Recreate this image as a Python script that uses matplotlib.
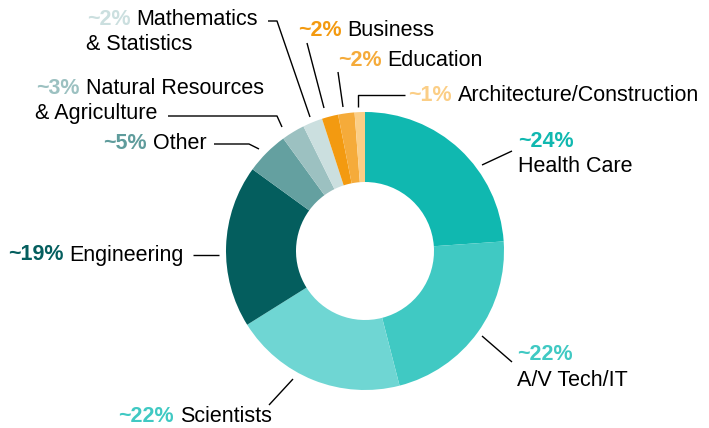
import matplotlib.pyplot as plt

# shares (the ~ labels are the chart's own rounded texts)
fields = ["Health Care", "A/V Tech/IT", "Scientists", "Engineering", "Other",
          "Natural Resources\n& Agriculture", "Mathematics\n& Statistics",
          "Business", "Education", "Architecture/Construction"]
shares = [23.9, 22.1, 20.1, 18.9, 5.0, 2.7, 2.3, 1.9, 1.9, 1.2]
pct_labels = ["~24%", "~22%", "~22%", "~19%", "~5%", "~3%", "~2%", "~2%", "~2%", "~1%"]

colors = ["#10b8b0", "#40c9c3", "#6fd6d3", "#045e5e", "#64a0a0",
          "#9cc1c1", "#cbdfdf", "#f39a10", "#f5ab3a", "#fbce86"]
pct_colors = ["#10b8b0", "#40c9c3", "#40c9c3", "#045e5e", "#5f9c9c",
              "#9cc1c1", "#cbdfdf", "#f39a10", "#f5ab3a", "#fbce86"]

# label layout in pixels from the top-left: x, y of first line, stacked?, leader points
layout = [
    (518, 141, True,  [(482, 165), (512, 151)]),
    (517, 355, True,  [(482, 336), (512, 362)]),
    (118, 417, False, [(293, 379), (269, 405)]),
    (8,   255, False, [(219, 255), (193, 255)]),
    (103, 143, False, [(259, 149), (249, 144), (214, 144)]),
    (36,  88,  False, [(282, 127), (277, 116), (168, 116)]),
    (87,  19,  False, [(310, 117), (277, 21), (268, 21)]),
    (298, 30,  False, [(324, 108), (307, 43)]),
    (338, 60,  False, [(343, 107), (338, 72)]),
    (408, 95,  False, [(358, 107), (358, 95), (405, 95)]),
]

W, H = 709, 428
plt.rcParams['font.family'] = ['Liberation Sans', 'DejaVu Sans']

fig = plt.figure(figsize=(W / 100, H / 100), dpi=100)
ax = fig.add_axes([0, 0, 1, 1])

ax.pie(shares, colors=colors, startangle=90, counterclock=False,
       radius=139, center=(365, H - 251),
       wedgeprops=dict(width=70, linewidth=0))
ax.set_xlim(0, W)
ax.set_ylim(0, H)
ax.set_aspect('equal')
ax.axis('off')

fs = 15.5
line_gap = 25
renderer = fig.canvas.get_renderer()

for name, pct, pc, (x, y, stacked, leader) in zip(fields, pct_labels, pct_colors, layout):
    xs = [p[0] for p in leader]
    ys = [H - p[1] for p in leader]
    ax.plot(xs, ys, color="black", lw=1.0, solid_capstyle='butt')

    t = ax.text(x, H - y, pct, color=pc, fontsize=fs, fontweight='bold',
                va='center', ha='left')
    lines = name.split("\n")
    if stacked:
        for i, ln in enumerate(lines):
            ax.text(x, H - y - line_gap * (i + 1), ln, color="black",
                    fontsize=fs, va='center', ha='left')
    else:
        bb = t.get_window_extent(renderer)
        x2 = ax.transData.inverted().transform((bb.x1, 0))[0] + 6
        ax.text(x2, H - y, lines[0], color="black", fontsize=fs,
                va='center', ha='left')
        for i, ln in enumerate(lines[1:]):
            ax.text(x - 1, H - y - line_gap * (i + 1), ln, color="black",
                    fontsize=fs, va='center', ha='left')

fig.savefig("out.png", dpi=100)
